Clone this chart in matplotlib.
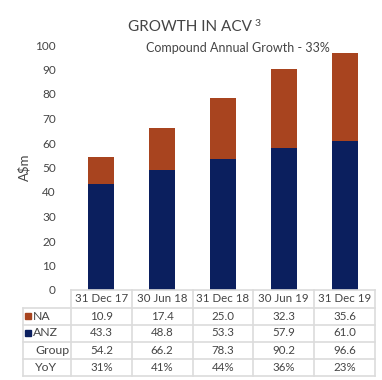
import matplotlib
matplotlib.use('Agg')
import matplotlib.pyplot as plt
import matplotlib.transforms as mtransforms

plt.rcParams['font.family'] = ['Lato', 'DejaVu Sans']

periods = ['31 Dec 17', '30 Jun 18', '31 Dec 18', '30 Jun 19', '31 Dec 19']
anz = [43.3, 48.8, 53.3, 57.9, 61.0]
na = [10.9, 17.4, 25.0, 32.3, 35.6]
group = [54.2, 66.2, 78.3, 90.2, 96.6]
yoy = ['31%', '41%', '44%', '36%', '23%']
yticks = [0, 10, 20, 30, 40, 50, 60, 70, 80, 90, 100]

NA_COL = '#A8441F'
ANZ_COL = '#0B1F5E'
TXT = '#454545'
GRID = '#DCDCDC'

W, H = 382, 380
fig = plt.figure(figsize=(W / 100, H / 100), dpi=100)
ax = fig.add_axes([71 / W, 90 / H, 304 / W, 245 / H])

x = range(len(periods))
ax.bar(x, anz, width=0.43, color=ANZ_COL)
ax.bar(x, na, width=0.43, bottom=anz, color=NA_COL)
ax.set_xlim(-0.5, 4.5)
ax.set_ylim(0, 100)
ax.set_yticks(yticks)
ax.set_xticks([])
ax.tick_params(axis='y', length=0, pad=11, labelsize=8.5, labelcolor=TXT)
for s in ax.spines.values():
    s.set_visible(False)
ax.set_ylabel('A\\$m', fontsize=9.5, color=TXT, labelpad=3)

# table under the chart
tr = mtransforms.blended_transform_factory(ax.transData, fig.transFigure)
row_px = [290, 307.5, 324.5, 341.5, 358.5, 376]
rows = [1 - p / H for p in row_px]
lab_left = -0.5 - 48 / 60.8

# header row
for i, p in enumerate(periods):
    fig.text(i, (rows[0] + rows[1]) / 2, p, transform=tr, ha='center', va='center',
             fontsize=8.3, color=TXT)

table_rows = [('NA', ['%.1f' % v for v in na], NA_COL),
              ('ANZ', ['%.1f' % v for v in anz], ANZ_COL),
              ('Group', ['%.1f' % v for v in group], None),
              ('YoY', yoy, None)]
for r, (name, vals, col) in enumerate(table_rows):
    yc = (rows[r + 1] + rows[r + 2]) / 2
    if col is not None:
        ax.plot([lab_left + 0.09], [yc], marker='s', markersize=5, color=col,
                transform=tr, clip_on=False)
        fig.text(lab_left + 0.16, yc, name, transform=tr, ha='left', va='center',
                 fontsize=8.8, color=TXT)
    else:
        fig.text(lab_left + 0.2, yc, name, transform=tr, ha='left', va='center',
                 fontsize=8.8, color=TXT)
    for i, v in enumerate(vals):
        fig.text(i, yc, v, transform=tr, ha='center', va='center',
                 fontsize=8.3, color=TXT)

# grid lines
lw = 1.2
ax.plot([-0.5, 4.5], [rows[0], rows[0]], color=GRID, lw=lw, transform=tr, clip_on=False)
for yv in rows[1:]:
    ax.plot([lab_left, 4.5], [yv, yv], color=GRID, lw=lw, transform=tr, clip_on=False)
for xv in [i - 0.5 for i in range(6)]:
    ax.plot([xv, xv], [rows[0], rows[-1]], color=GRID, lw=lw, transform=tr, clip_on=False)
ax.plot([lab_left, lab_left], [rows[1], rows[-1]], color=GRID, lw=lw, transform=tr, clip_on=False)

# titles
fig.text(252 / W, 1 - 27 / H, 'GROWTH IN ACV', ha='right', va='center',
         fontsize=11, color=TXT)
fig.text(255 / W, 1 - 24 / H, '3', ha='left', va='center', fontsize=7.5, color=TXT)
fig.text(238 / W, 1 - 48 / H, 'Compound Annual Growth - 33%', ha='center', va='center',
         fontsize=9, color=TXT)

fig.savefig('out.png', dpi=100)
